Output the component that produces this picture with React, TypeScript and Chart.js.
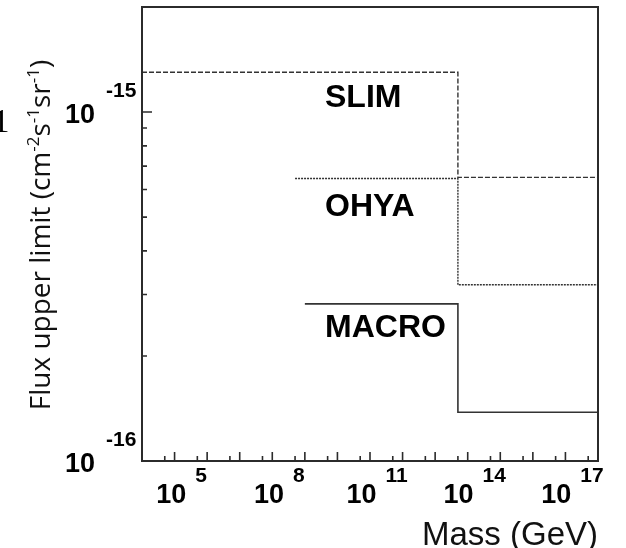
import React, { useEffect, useRef } from "react";
import { Chart, registerables } from "chart.js";
Chart.register(...registerables);

// Step-shaped upper-limit curves (mass in GeV, flux in cm^-2 s^-1 sr^-1)
const slimMass = [1e3, 5e12, 5e12, 1e17];
const slimFlux = [1.3e-15, 1.3e-15, 6.5e-16, 6.5e-16];
const ohyaMass = [5e7, 5e12, 5e12, 1e17];
const ohyaFlux = [6.45e-16, 6.45e-16, 3.2e-16, 3.2e-16];
const macroMass = [1e8, 5e12, 5e12, 1e17];
const macroFlux = [2.82e-16, 2.82e-16, 1.38e-16, 1.38e-16];
const seriesNames = ["SLIM", "OHYA", "MACRO"];

const xMin = 1e3;
const xMax = 1e17;
const yMin = 1e-16;
const yMax = 2e-15;
const xLabelExponents = [5, 8, 11, 14, 17];
const yLabelExponents = [-15, -16];

const toPoints = (xs: number[], ys: number[]) => xs.map((x, i) => ({ x, y: ys[i] }));

const SANS = "'Liberation Sans', Arial, sans-serif";

const decorPlugin = {
  id: "decor",
  afterDraw(chart: any) {
    const ctx: CanvasRenderingContext2D = chart.ctx;
    const { left, right, top, bottom } = chart.chartArea;
    const xs = chart.scales.x;
    const ys = chart.scales.y;
    ctx.save();
    // frame
    ctx.strokeStyle = "#2b2b2b";
    ctx.lineWidth = 2;
    ctx.strokeRect(left, top, right - left, bottom - top);

    // x ticks (inside)
    ctx.lineWidth = 1.6;
    ctx.beginPath();
    for (let e = 3; e <= 17; e++) {
      const px = xs.getPixelForValue(Math.pow(10, e));
      ctx.moveTo(px, bottom);
      ctx.lineTo(px, bottom - 9);
      if (e < 17) {
        const pm = xs.getPixelForValue(5 * Math.pow(10, e));
        ctx.moveTo(pm, bottom);
        ctx.lineTo(pm, bottom - 5);
      }
    }
    // y ticks (inside)
    for (let m = 2; m <= 9; m++) {
      const py = ys.getPixelForValue(m * 1e-16);
      ctx.moveTo(left, py);
      ctx.lineTo(left + 5, py);
    }
    const p15 = ys.getPixelForValue(1e-15);
    ctx.moveTo(left, p15);
    ctx.lineTo(left + 10, p15);
    ctx.stroke();

    ctx.fillStyle = "#000";
    // x tick labels
    for (const e of xLabelExponents) {
      const px = xs.getPixelForValue(Math.pow(10, e));
      ctx.font = `bold 21px ${SANS}`;
      const es = String(e);
      const ew = ctx.measureText(es).width;
      const expLeft = px - 6 - ew / 2;
      ctx.textAlign = "left";
      ctx.textBaseline = "alphabetic";
      ctx.fillText(es, expLeft, bottom + 21);
      ctx.font = `bold 27px ${SANS}`;
      ctx.textAlign = "right";
      ctx.fillText("10", expLeft - 9, bottom + 42);
    }
    // y tick labels
    for (const e of yLabelExponents) {
      const py = ys.getPixelForValue(Math.pow(10, e));
      ctx.font = `bold 27px ${SANS}`;
      ctx.textAlign = "right";
      ctx.textBaseline = "alphabetic";
      ctx.fillText("10", left - 47, py + 10.5);
      ctx.font = `bold 21px ${SANS}`;
      ctx.textAlign = "left";
      ctx.fillText(String(e), left - 36, py - 15);
    }

    // series labels
    const firstFlux = [slimFlux[0], ohyaFlux[0], macroFlux[0]];
    const offs = [35, 37, 33];
    ctx.font = `bold 32px ${SANS}`;
    ctx.textAlign = "left";
    seriesNames.forEach((name, i) => {
      const py = ys.getPixelForValue(firstFlux[i]);
      ctx.fillText(name, left + 183, py + offs[i]);
    });

    // x title
    ctx.font = `33px ${SANS}`;
    ctx.textAlign = "right";
    ctx.fillStyle = "#111";
    ctx.fillText("Mass (GeV)", right, 545);

    // y title (rotated, with superscripts)
    const main = 28;
    const sup = 17;
    const parts: [string, boolean][] = [
      ["Flux upper limit (cm", false],
      ["-2", true],
      ["s", false],
      ["-1", true],
      ["sr", false],
      ["-1", true],
      [")", false],
    ];
    const fontFor = (s: boolean) => `${s ? sup : main}px 'Open Sans', sans-serif`;
    let total = 0;
    for (const [t, s] of parts) {
      ctx.font = fontFor(s);
      total += ctx.measureText(t).width;
    }
    ctx.translate(50, 235);
    ctx.rotate(-Math.PI / 2);
    let cx = -total / 2;
    ctx.textAlign = "left";
    for (const [t, s] of parts) {
      ctx.font = fontFor(s);
      ctx.fillText(t, cx, s ? -11 : 0);
      cx += ctx.measureText(t).width;
    }
    ctx.restore();

    // stray glyph at left edge
    ctx.save();
    ctx.font = `34px 'Liberation Serif', serif`;
    ctx.fillStyle = "#000";
    ctx.textAlign = "center";
    ctx.fillText("1", 1, 132);
    ctx.restore();
  },
};

export default function App() {
  const ref = useRef<HTMLCanvasElement | null>(null);
  useEffect(() => {
    if (!ref.current) return;
    const lineCol = "#333";
    const chart = new Chart(ref.current, {
      type: "line",
      data: {
        datasets: [
          {
            label: seriesNames[0],
            data: toPoints(slimMass, slimFlux),
            borderColor: lineCol,
            borderWidth: 1.4,
            borderDash: [5, 2],
            pointRadius: 0,
            fill: false,
          },
          {
            label: seriesNames[1],
            data: toPoints(ohyaMass, ohyaFlux),
            borderColor: lineCol,
            borderWidth: 1.4,
            borderDash: [2, 1],
            pointRadius: 0,
            fill: false,
          },
          {
            label: seriesNames[2],
            data: toPoints(macroMass, macroFlux),
            borderColor: lineCol,
            borderWidth: 1.6,
            pointRadius: 0,
            fill: false,
          },
        ],
      },
      options: {
        responsive: false,
        animation: false,
        events: [],
        layout: { padding: { left: 142, top: 7, right: 28, bottom: 87 } },
        plugins: { legend: { display: false }, tooltip: { enabled: false } },
        scales: {
          x: { type: "logarithmic", min: xMin, max: xMax, display: false },
          y: { type: "logarithmic", min: yMin, max: yMax, display: false },
        },
      },
      plugins: [decorPlugin],
    } as any);
    return () => chart.destroy();
  }, []);
  return (
    <div style={{ position: "absolute", left: 0, top: 0, width: 626, height: 548, background: "#fff" }}>
      <canvas ref={ref} width={626} height={548} />
    </div>
  );
}
